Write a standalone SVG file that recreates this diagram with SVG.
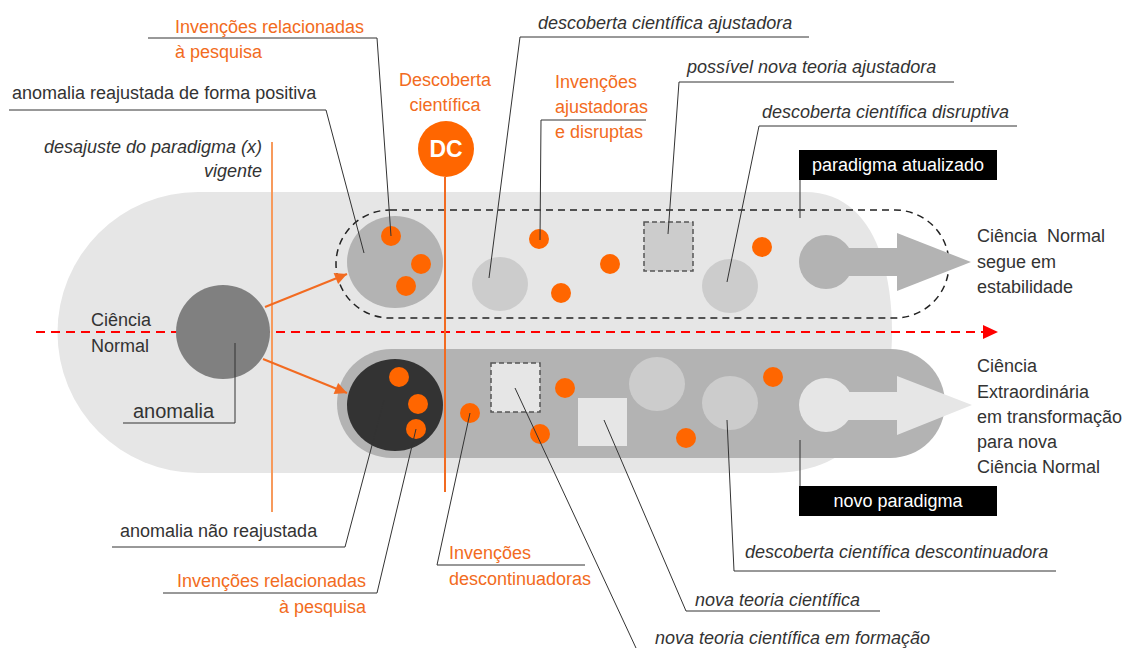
<svg xmlns="http://www.w3.org/2000/svg" width="1128" height="648" viewBox="0 0 1128 648">
  <defs>
    <style>
      text { font-family: "Liberation Sans", Arial, sans-serif; font-size: 18px; fill: #333; }
      .it { font-style: italic; }
      .or { fill: #f26b21; }
      .wh { fill: #fff; }
      .lead { fill: none; stroke: #333; stroke-width: 1; }
      .dot { fill: #ff6600; }
      .lc { fill: #cccccc; }
      .mid { fill: #b3b3b3; }
      .pale { fill: #e6e6e6; }
      .dsq { stroke: #555; stroke-width: 1.5; stroke-dasharray: 5 3; }
    </style>
    <marker id="oa" viewBox="0 0 10 10" refX="10" refY="5" markerWidth="7" markerHeight="6" markerUnits="strokeWidth" orient="auto">
      <path d="M0,0 L10,5 L0,10 Z" fill="#f26b21"/>
    </marker>
  </defs>

  <rect width="1128" height="648" fill="#fff"/>

  <!-- background field of normal science -->
  <path id="field" d="M198,192 H805 C870,192 892,262 892,332 C892,410 860,473 770,473 H198 A140.5,140.5 0 0 1 198,192 Z" fill="#e6e6e6"/>

  <!-- lower band: extraordinary science -->
  <rect id="extraordinary-band" x="337" y="349" width="608" height="109" rx="54.5" fill="#b3b3b3"/>

  <!-- upper dashed envelope: adjusted paradigm -->
  <path id="adjusted-envelope" d="M390,210 H895 A54,54 0 0 1 895,318 H390 A54,54 0 0 1 390,210 Z" fill="none" stroke="#222" stroke-width="1.5" stroke-dasharray="7 5"/>

  <!-- time axis -->
  <g id="axis">
    <line x1="36" y1="332" x2="984" y2="332" stroke="#ff0000" stroke-width="2" stroke-dasharray="9 6"/>
    <polygon points="983,325 998,332 983,339" fill="#ff0000"/>
  </g>

  <!-- current paradigm threshold -->
  <line id="threshold" x1="272" y1="142" x2="272" y2="512" stroke="#f79a5c" stroke-width="2"/>

  <!-- scientific discovery marker -->
  <g id="dc">
    <line x1="445" y1="177" x2="445" y2="492" stroke="#f26b21" stroke-width="2"/>
    <circle cx="446" cy="149" r="28" fill="#ff6600"/>
    <text x="446" y="157" text-anchor="middle" class="wh" style="font-weight:bold;font-size:23px">DC</text>
    <text x="445" y="86" text-anchor="middle" class="or">Descoberta</text>
    <text x="445" y="111" text-anchor="middle" class="or">científica</text>
  </g>

  <!-- normal science -->
  <g id="normal-science">
    <circle cx="223" cy="332" r="47" fill="#808080"/>
    <text x="91" y="326">Ciência</text>
    <text x="91" y="352">Normal</text>
  </g>

  <!-- anomaly readjusted positively -->
  <g id="readjusted">
    <ellipse cx="395" cy="262" rx="48" ry="46" class="mid"/>
    <circle cx="391" cy="236" r="10" class="dot"/>
    <circle cx="421" cy="264" r="10" class="dot"/>
    <circle cx="406" cy="286" r="10" class="dot"/>
  </g>

  <!-- anomaly not readjusted -->
  <g id="not-readjusted">
    <ellipse cx="395" cy="405" rx="48" ry="46" fill="#333"/>
    <circle cx="399" cy="377" r="10" class="dot"/>
    <circle cx="418" cy="404" r="10" class="dot"/>
    <circle cx="416" cy="429" r="10" class="dot"/>
  </g>

  <!-- upper band elements -->
  <g id="upper-items">
    <ellipse cx="500" cy="284" rx="28" ry="27" class="lc"/>
    <ellipse cx="730" cy="286" rx="28" ry="27" class="lc"/>
    <rect x="644" y="222" width="49" height="49" class="lc dsq"/>
    <circle cx="539" cy="239" r="10" class="dot"/>
    <circle cx="610" cy="264" r="10" class="dot"/>
    <circle cx="561" cy="293" r="10" class="dot"/>
    <circle cx="762" cy="247" r="10" class="dot"/>
  </g>

  <!-- lower band elements -->
  <g id="lower-items">
    <ellipse cx="657" cy="384" rx="28" ry="27" class="lc"/>
    <ellipse cx="730" cy="403" rx="28" ry="27" class="lc"/>
    <rect x="491" y="363" width="49" height="49" class="pale dsq"/>
    <rect x="578" y="398" width="49" height="48" class="pale"/>
    <circle cx="470" cy="413" r="10" class="dot"/>
    <circle cx="565" cy="388" r="10" class="dot"/>
    <circle cx="540" cy="434" r="10" class="dot"/>
    <circle cx="686" cy="438" r="10" class="dot"/>
    <circle cx="773" cy="377" r="10" class="dot"/>
  </g>

  <!-- outcome arrows -->
  <g id="stable-arrow" class="mid">
    <circle cx="826" cy="262" r="27"/>
    <rect x="826" y="248" width="73" height="28"/>
    <polygon points="897,233 971,262 897,291"/>
  </g>
  <g id="transform-arrow" class="pale">
    <circle cx="826" cy="405" r="27"/>
    <rect x="826" y="392" width="73" height="28"/>
    <polygon points="897,376 972,405 897,435"/>
  </g>

  <!-- connectors -->
  <g id="connectors">
    <line x1="265" y1="307" x2="347" y2="274" stroke="#f26b21" stroke-width="2" marker-end="url(#oa)"/>
    <line x1="263" y1="359" x2="347" y2="393" stroke="#f26b21" stroke-width="2" marker-end="url(#oa)"/>

    <polyline class="lead" points="148,38 377,38 391,236"/>
    <polyline class="lead" points="9,110 326,110 364,253"/>
    <polyline class="lead" points="809,37 520,37 489,278"/>
    <polyline class="lead" points="646,120 541,120 540,240"/>
    <polyline class="lead" points="954,82 679,82 668,234"/>
    <polyline class="lead" points="1017,126 759,126 727,282"/>
    <line class="lead" x1="800" y1="180" x2="800" y2="218"/>
    <polyline class="lead" points="123,423 235,423 235,343"/>
    <polyline class="lead" points="112,547 345,547 384,400"/>
    <polyline class="lead" points="163,593 377,593 416,429"/>
    <polyline class="lead" points="585,565 437,565 470,413"/>
    <polyline class="lead" points="1056,571 734,571 727,420"/>
    <polyline class="lead" points="880,611 686,611 604,420"/>
    <line class="lead" x1="636" y1="648" x2="515" y2="388"/>
    <line class="lead" x1="800" y1="486" x2="800" y2="440"/>
  </g>

  <!-- labels -->
  <g id="labels">
    <text x="175" y="33" class="or">Invenções relacionadas</text>
    <text x="175" y="58" class="or">à pesquisa</text>
    <text x="12" y="99">anomalia reajustada de forma positiva</text>
    <text x="262" y="153" text-anchor="end" class="it">desajuste do paradigma (x)</text>
    <text x="262" y="177" text-anchor="end" class="it">vigente</text>
    <text x="538" y="29" class="it">descoberta científica ajustadora</text>
    <text x="555" y="88" class="or">Invenções</text>
    <text x="555" y="113" class="or">ajustadoras</text>
    <text x="555" y="138" class="or">e disruptas</text>
    <text x="687" y="73" class="it">possível nova teoria ajustadora</text>
    <text x="762" y="118" class="it">descoberta científica disruptiva</text>
    <text x="133" y="418" style="font-size:20px">anomalia</text>
    <text x="120" y="537">anomalia não reajustada</text>
    <text x="366" y="587" text-anchor="end" class="or">Invenções relacionadas</text>
    <text x="366" y="613" text-anchor="end" class="or">à pesquisa</text>
    <text x="449" y="559" class="or">Invenções</text>
    <text x="449" y="585" class="or">descontinuadoras</text>
    <text x="745" y="558" class="it">descoberta científica descontinuadora</text>
    <text x="695" y="606" class="it">nova teoria científica</text>
    <text x="655" y="644" class="it">nova teoria científica em formação</text>
  </g>

  <g id="paradigm-updated">
    <rect x="799" y="150" width="198" height="30" fill="#000"/>
    <text x="898" y="171" text-anchor="middle" class="wh">paradigma atualizado</text>
  </g>
  <g id="new-paradigm">
    <rect x="799" y="486" width="198" height="30" fill="#000"/>
    <text x="898" y="507" text-anchor="middle" class="wh">novo paradigma</text>
  </g>

  <g id="outcome-stable">
    <text x="977" y="242" xml:space="preserve">Ciência  Normal</text>
    <text x="977" y="268">segue em</text>
    <text x="977" y="293">estabilidade</text>
  </g>
  <g id="outcome-transform">
    <text x="977" y="372">Ciência</text>
    <text x="977" y="398">Extraordinária</text>
    <text x="977" y="423">em transformação</text>
    <text x="977" y="448">para nova</text>
    <text x="977" y="473">Ciência Normal</text>
  </g>
</svg>
